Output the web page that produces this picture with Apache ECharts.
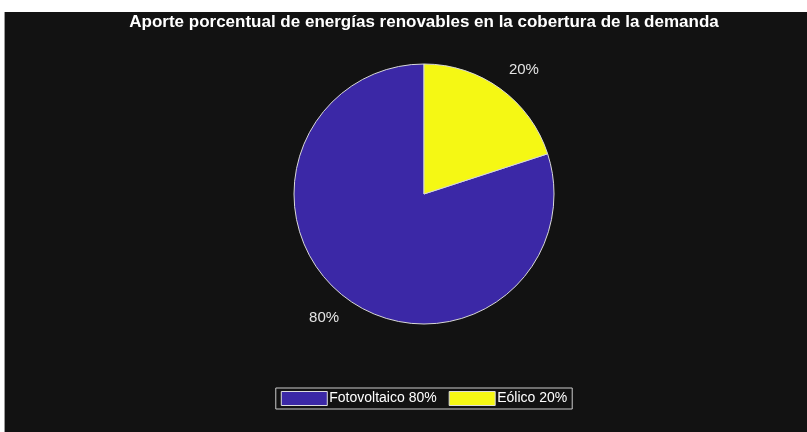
<!DOCTYPE html>
<html>
<head>
<meta charset="utf-8">
<script src="https://cdn.jsdelivr.net/npm/echarts@6/dist/echarts.min.js"></script>
<style>
html,body{margin:0;padding:0;background:#fff;overflow:hidden;width:807px;height:432px;}
#wrap{position:absolute;left:4px;top:12px;width:803px;height:420px;background:#121212;border-left:1px solid #9a9a9a;overflow:hidden;}
#chart{position:absolute;left:0;top:0;width:838px;height:420px;}
</style>
</head>
<body>
<div id="wrap"><div id="chart"></div></div>
<script>
const titleText = 'Aporte porcentual de energías renovables en la cobertura de la demanda';
const categories = ['Fotovoltaico', 'Eólico'];
const values = [80, 20];
const sliceColors = ['#3b28a6', '#f5f814'];

const chart = echarts.init(document.getElementById('chart'), null, {renderer: 'canvas'});
const data = categories.map((c, i) => ({
  name: c + ' ' + values[i] + '%',
  value: values[i],
  itemStyle: {color: sliceColors[i]}
}));
chart.setOption({
  backgroundColor: '#121212',
  animation: false,
  title: {
    text: titleText,
    left: 'center',
    top: 2,
    padding: 0,
    textStyle: {color: '#ffffff', fontSize: 17, fontWeight: 'bold', fontFamily: 'Liberation Sans, Arial, sans-serif'}
  },
  legend: {
    bottom: 23,
    left: 'center',
    icon: 'rect',
    itemWidth: 46,
    itemHeight: 14,
    itemGap: 12,
    padding: [3, 5, 3, 5],
    borderColor: '#cccccc',
    borderWidth: 1,
    backgroundColor: '#121212',
    itemStyle: {borderColor: '#dddddd', borderWidth: 1},
    textStyle: {color: '#ffffff', fontSize: 14, fontFamily: 'Liberation Sans, Arial, sans-serif', padding: [0, 0, 0, -3]}
  },
  series: [{
    type: 'pie',
    center: ['50%', 182],
    radius: [0, 130],
    startAngle: 90,
    clockwise: false,
    avoidLabelOverlap: false,
    itemStyle: {borderColor: '#d8d8d8', borderWidth: 1},
    label: {
      show: true,
      position: 'outside',
      formatter: p => p.value + '%',
      color: '#e4e4e4',
      fontSize: 15,
      fontFamily: 'Liberation Sans, Arial, sans-serif',
      distanceToLabelLine: -5
    },
    labelLine: {show: false, length: 23, length2: 0},
    emphasis: {disabled: true},
    data: data
  }]
});
</script>
</body>
</html>
